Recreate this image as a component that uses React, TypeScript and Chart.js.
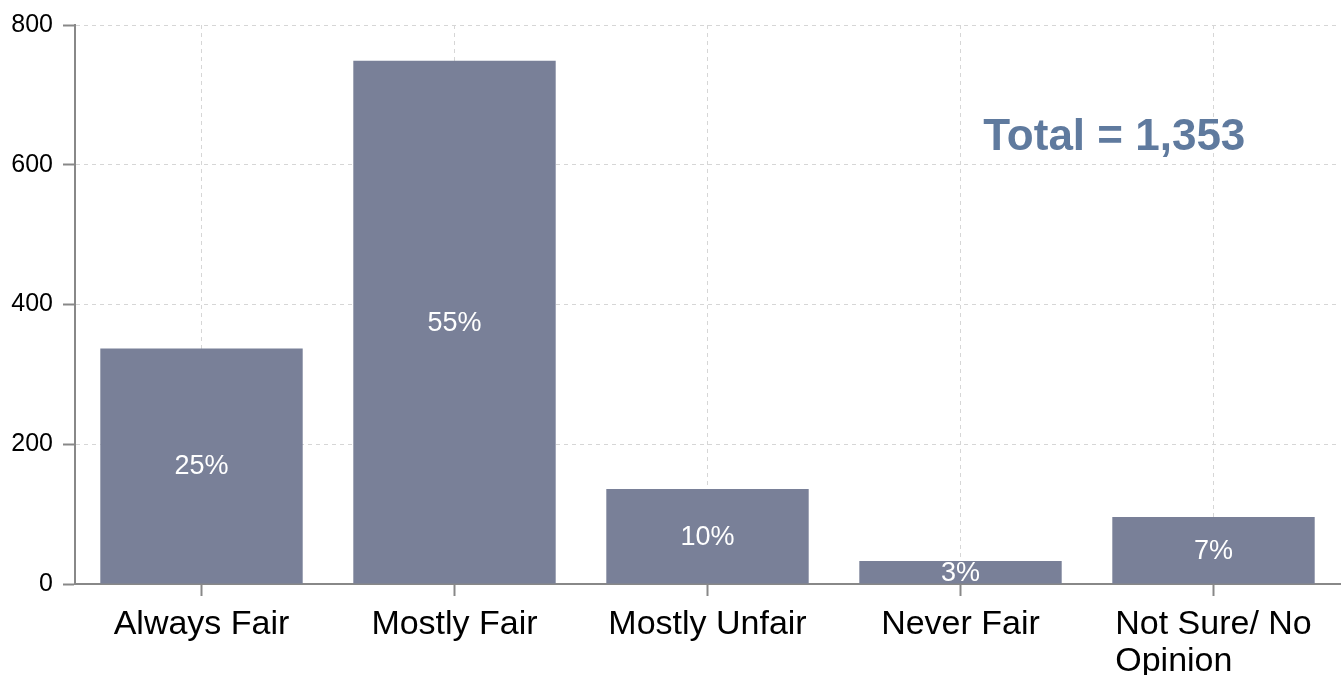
import React, { useEffect, useRef } from "react";
import { Chart, registerables } from "chart.js";

Chart.register(...registerables);

const categories: (string | string[])[] = [
  "Always Fair",
  "Mostly Fair",
  "Mostly Unfair",
  "Never Fair",
  ["Not Sure/ No", "Opinion"],
];
const counts = [337, 749, 136, 33, 96];
const percentLabels = ["25%", "55%", "10%", "3%", "7%"];
const yTicks = [0, 200, 400, 600, 800];
const totalText = "Total = 1,353";
const totalPos = { x: 3.6, y: 638 };

const FONT = "'Liberation Sans', Arial, Helvetica, sans-serif";

const labelPlugin = {
  id: "barLabels",
  afterDatasetsDraw(chart: any) {
    const ctx = chart.ctx;
    const meta = chart.getDatasetMeta(0);
    ctx.save();
    ctx.fillStyle = "#ffffff";
    ctx.font = `27px ${FONT}`;
    ctx.textAlign = "center";
    ctx.textBaseline = "middle";
    meta.data.forEach((bar: any, i: number) => {
      const mid = (bar.y + bar.base) / 2;
      ctx.fillText(percentLabels[i], bar.x, mid + 1);
    });
    const xs = chart.scales.x;
    const ys = chart.scales.y;
    ctx.fillStyle = "#5f7a9e";
    ctx.font = `bold 44px ${FONT}`;
    ctx.fillText(totalText, xs.getPixelForValue(totalPos.x) + 2, ys.getPixelForValue(totalPos.y));

    // x category labels (multi-line labels left-aligned as a centered block)
    ctx.fillStyle = "#000000";
    ctx.font = `34px ${FONT}`;
    ctx.textBaseline = "alphabetic";
    categories.forEach((c, i) => {
      const lines = Array.isArray(c) ? c : [c];
      const cx = xs.getPixelForTick(i);
      const baseY = xs.top + 50;
      if (lines.length === 1) {
        ctx.textAlign = "center";
        ctx.fillText(lines[0], cx, baseY);
      } else {
        const w = Math.max(...lines.map((l) => ctx.measureText(l).width));
        ctx.textAlign = "left";
        lines.forEach((l, j) => ctx.fillText(l, cx - w / 2, baseY + j * 37));
      }
    });
    ctx.restore();
  },
};

export default function App() {
  const ref = useRef<HTMLCanvasElement | null>(null);
  useEffect(() => {
    if (!ref.current) return;
    const chart = new Chart(ref.current, {
      type: "bar",
      data: {
        labels: categories,
        datasets: [
          {
            data: counts,
            backgroundColor: "#798098",
            borderWidth: 0,
            barPercentage: 0.8,
            categoryPercentage: 1,
          },
        ],
      },
      options: {
        animation: false,
        responsive: true,
        maintainAspectRatio: false,
        layout: { padding: { top: 24, right: 4, left: 0, bottom: 0 } },
        plugins: {
          legend: { display: false },
          tooltip: { enabled: false },
        },
        scales: {
          x: {
            grid: {
              offset: false,
              color: "#d6d6d6",
              tickColor: "#888888",
              tickLength: 12,
              tickWidth: 2,
              lineWidth: 1,
            },
            border: { color: "#888888", width: 2, dash: [4, 4] },
            ticks: { display: false, autoSkip: false },
            afterFit(scale: any) {
              scale.height = 91;
            },
          },
          y: {
            min: 0,
            max: 800,
            afterBuildTicks(scale: any) {
              scale.ticks = yTicks.map((v) => ({ value: v }));
            },
            grid: {
              color: "#d6d6d6",
              tickColor: "#888888",
              tickLength: 12,
              tickWidth: 2,
              lineWidth: 1,
            },
            border: { color: "#888888", width: 2, dash: [4, 4] },
            ticks: {
              color: "#000000",
              font: { family: FONT, size: 25 },
              padding: 10,
            },
            afterFit(scale: any) {
              scale.width = 75;
            },
          },
        },
      },
      plugins: [labelPlugin],
    });
    return () => chart.destroy();
  }, []);
  return (
    <div style={{ position: "fixed", left: 0, top: 0, width: 1344, height: 675, background: "#fff" }}>
      <canvas ref={ref} />
    </div>
  );
}
